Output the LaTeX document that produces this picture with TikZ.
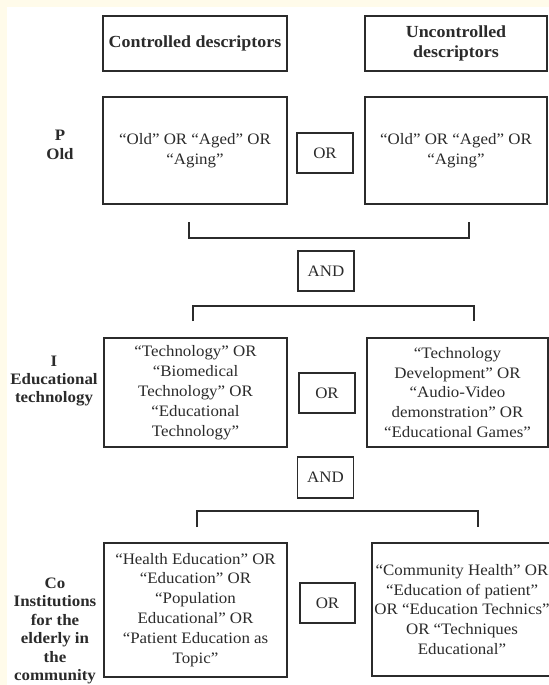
\documentclass[tikz,border=0pt]{standalone}
\usepackage{fontspec}
\setmainfont{Liberation Serif}[FakeStretch=1.06]
\definecolor{cream}{HTML}{FFFBEA}
\definecolor{ink}{HTML}{2B2B2B}
\begin{document}
\begin{tikzpicture}[x=1bp,y=-1bp,
  box/.style={draw=ink, line width=1.1bp, inner sep=0pt, align=center, text=ink,
              font=\fontsize{16}{20}\selectfont},
  hdr/.style={box, font=\bfseries\fontsize{17}{20}\selectfont},
  txt/.style={align=center, text=ink, inner sep=0pt, font=\fontsize{16}{20}\selectfont},
  lab/.style={align=center, text=ink, inner sep=0pt, font=\bfseries\fontsize{16}{18.5}\selectfont},
  brk/.style={draw=ink, line width=1.1bp}]
\fill[cream] (0,0) rectangle (549,685);
\fill[white] (7,7) rectangle (549,685);
\useasboundingbox (0,0) rectangle (549,685);
\clip (0,0) rectangle (549,685);

% headers
\node[hdr, minimum width=184bp, minimum height=55bp] (hc) at (195,43.5) {Controlled descriptors};
\node[hdr, minimum width=182bp, minimum height=55bp] (hu) at (456,43.5) {Uncontrolled\\descriptors};

% P row
\node[lab] (lp) at (60,145) {P\\Old};
\node[box, minimum width=184bp, minimum height=107bp] (pl) at (195,150.5) {“Old” OR “Aged” OR\\“Aging”};
\node[box, minimum width=56bp, minimum height=40bp] (por) at (325,153) {OR};
\node[box, minimum width=182bp, minimum height=107bp] (pr) at (456,150.5) {“Old” OR “Aged” OR\\“Aging”};

% bracket 1 + AND
\coordinate (b1a) at (189,222);
\coordinate (b1b) at (469,222);
\draw[brk] (b1a) |- (329,238) -| (b1b);
\node[box, minimum width=56bp, minimum height=40bp] (and1) at (326,271) {AND};

% bracket 2
\coordinate (b2a) at (193,321);
\coordinate (b2b) at (474,321);
\draw[brk] (b2a) |- (333,306) -| (b2b);

% I row
\node[lab] (li) at (54,381) {I\\Educational\\technology};
\node[box, minimum width=183bp, minimum height=109bp] (il) at (195.5,392.5) {“Technology” OR\\“Biomedical\\Technology” OR\\“Educational\\Technology”};
\node[box, minimum width=56bp, minimum height=40bp] (ior) at (327,393) {OR};
\node[box, minimum width=181bp, minimum height=109bp] (ir) at (457.5,392.5) {“Technology\\Development” OR\\“Audio-Video\\demonstration” OR\\“Educational Games”};

% AND 2 + bracket 3
\node[box, minimum width=56bp, minimum height=41bp] (and2) at (325.5,477.5) {AND};
\coordinate (b3a) at (197,527);
\coordinate (b3b) at (478,527);
\draw[brk] (b3a) |- (337,511) -| (b3b);

% Co row
\node[lab] (lc) at (55,631) {Co\\Institutions\\for the\\elderly in\\the\\community};
\node[box, minimum width=183bp, minimum height=134bp] (cl) at (195.5,610) {“Health Education” OR\\“Education” OR\\“Population\\Educational” OR\\“Patient Education as\\Topic”};
\node[box, minimum width=55bp, minimum height=40bp] (cor) at (327.5,603) {OR};
\node[box, minimum width=186bp, minimum height=133bp] (cr) at (465,609.5) {};
\node[txt] (crt) at ([xshift=-3bp]cr.center) {“Community Health” OR\\“Education of patient”\\OR “Education Technics”\\OR “Techniques\\Educational”};
\end{tikzpicture}
\end{document}
